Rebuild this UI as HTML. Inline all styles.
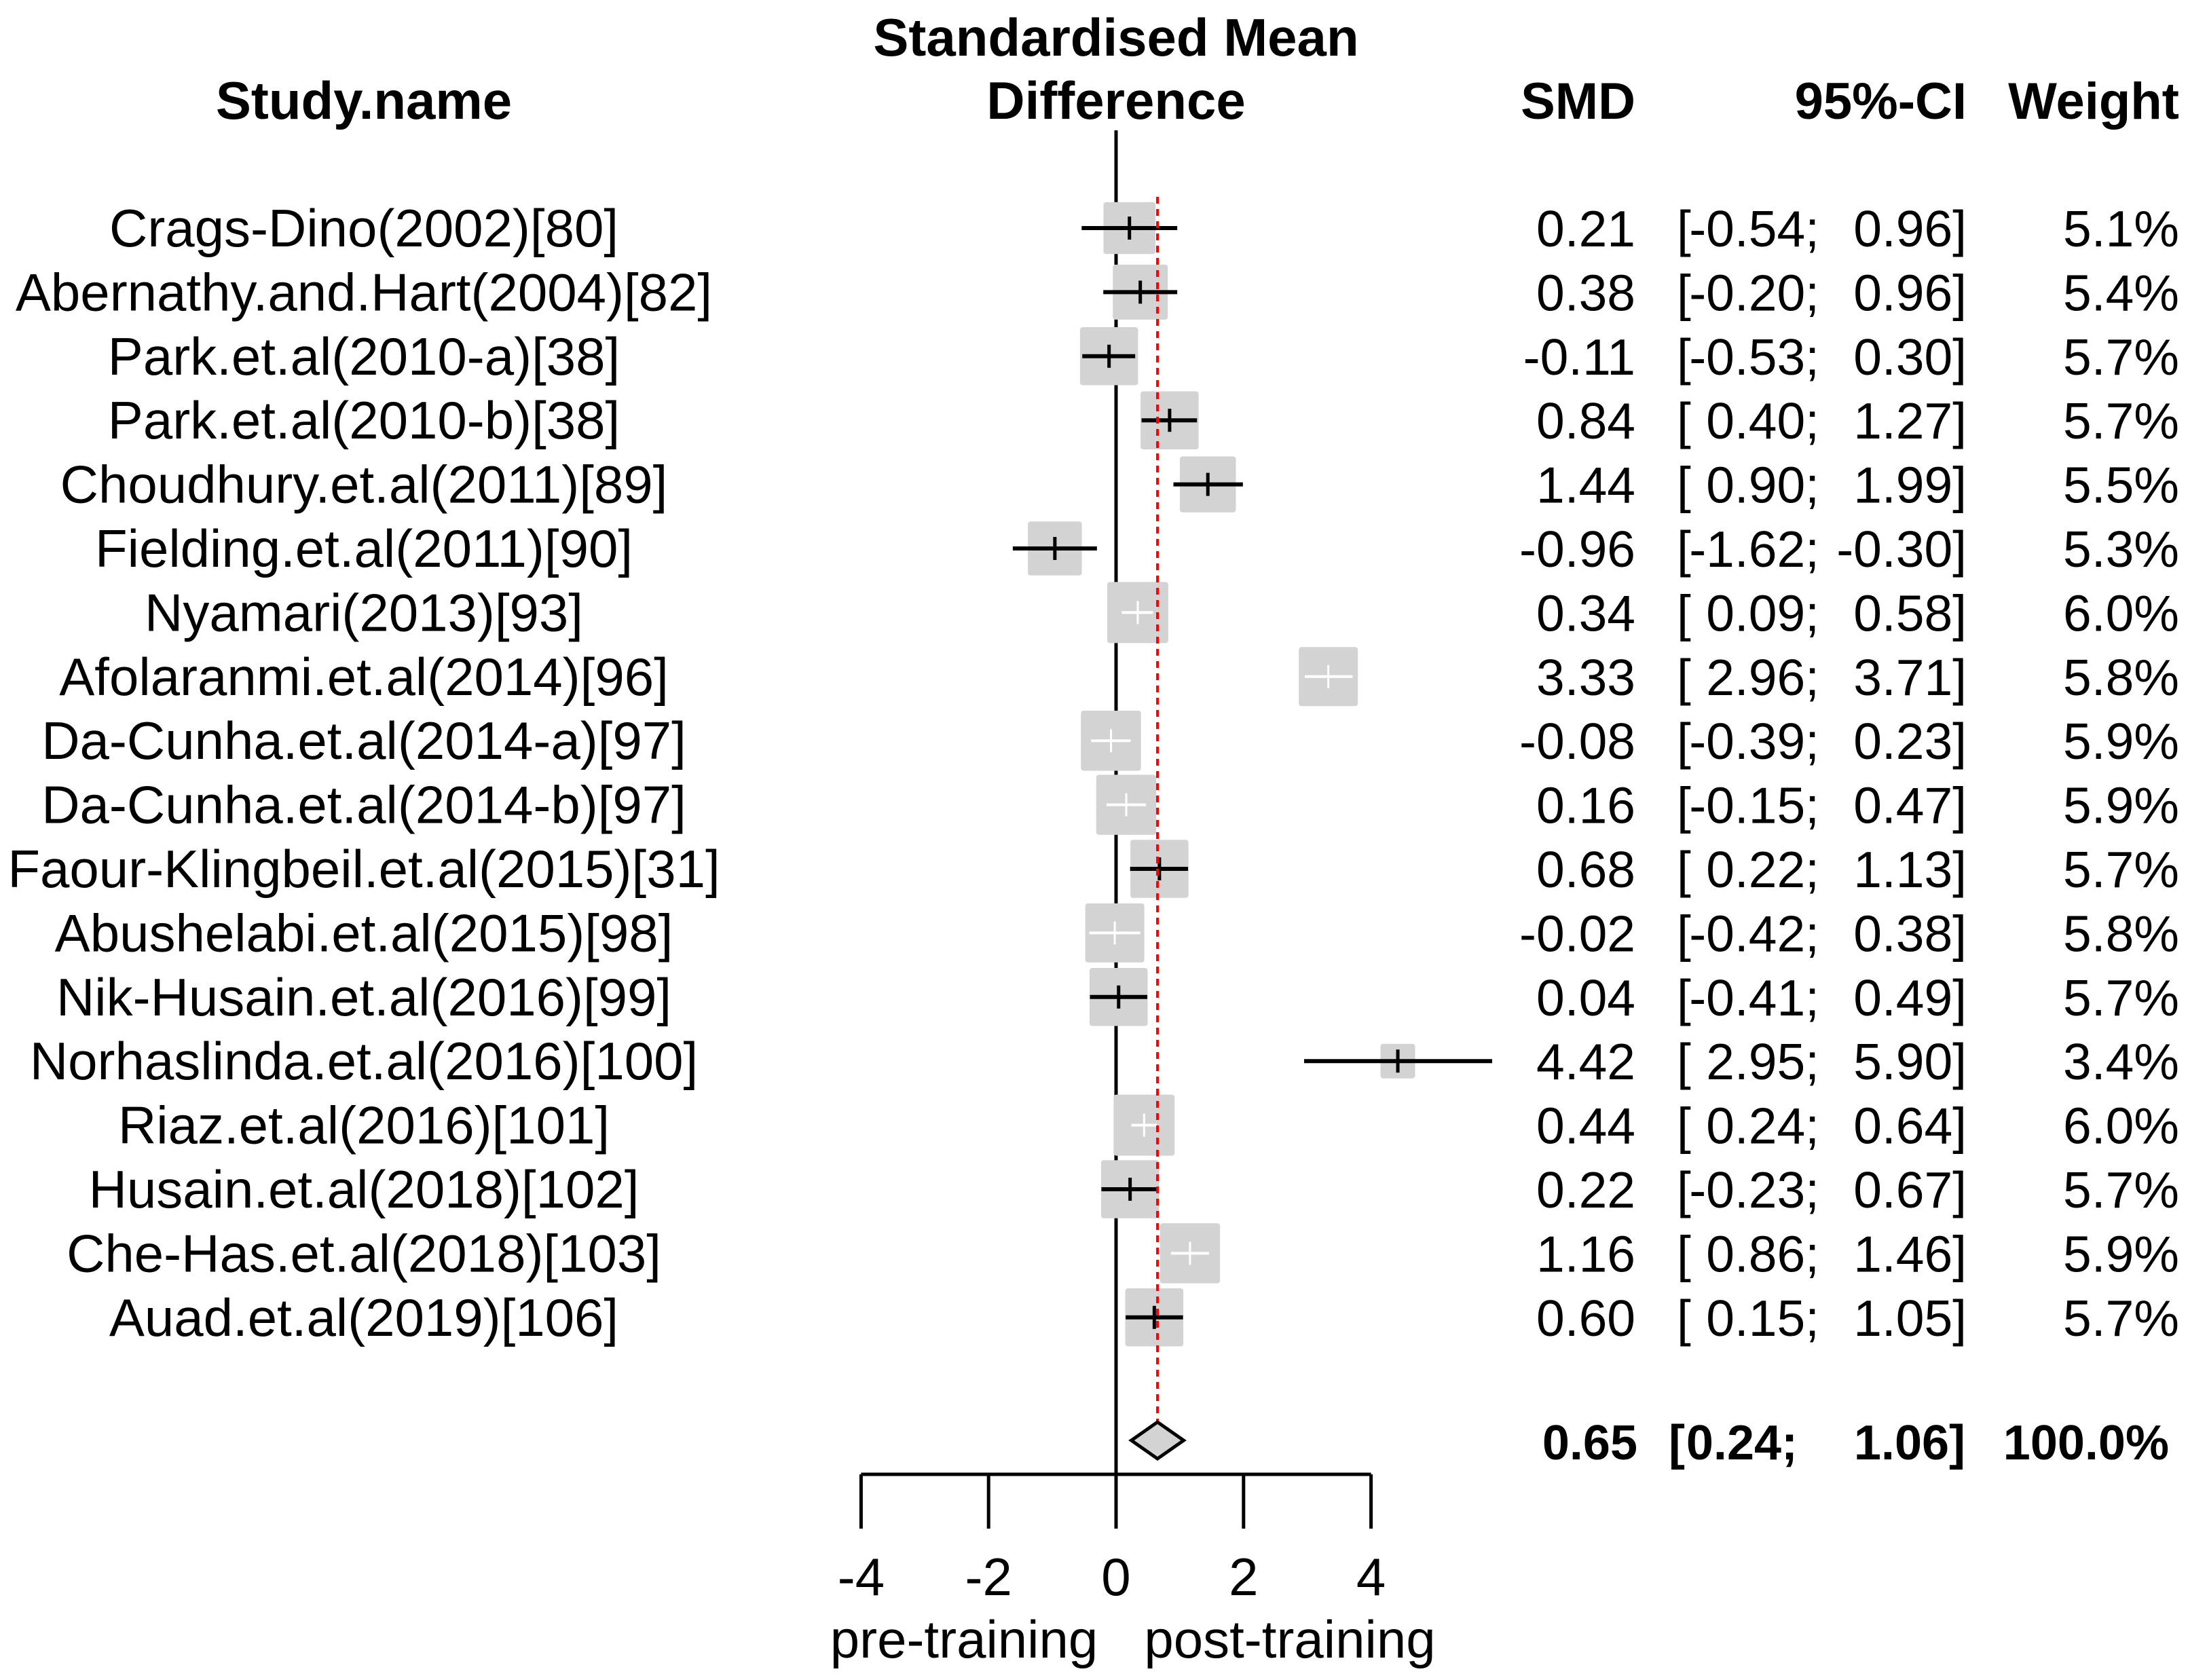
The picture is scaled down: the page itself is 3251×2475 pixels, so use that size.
<!DOCTYPE html>
<html><head><meta charset="utf-8"><style>
html,body{margin:0;padding:0;background:#fff}
svg{display:block}
text{font-family:"Liberation Sans",Arial,sans-serif;fill:#000}
</style></head><body>
<svg id="c" width="3251" height="2475" viewBox="0 0 3251 2475" xmlns="http://www.w3.org/2000/svg">
<g id="hdr">
<text x="536" y="175" font-size="78" font-weight="bold" text-anchor="middle">Study.name</text>
<text x="1644" y="82" font-size="78" font-weight="bold" text-anchor="middle">Standardised Mean</text>
<text x="1644" y="175" font-size="78" font-weight="bold" text-anchor="middle">Difference</text>
<text x="2409" y="175" font-size="76" font-weight="bold" text-anchor="end">SMD</text>
<text x="2897" y="175" font-size="76" font-weight="bold" text-anchor="end">95%-CI</text>
<text x="3210" y="175" font-size="76" font-weight="bold" text-anchor="end">Weight</text>
</g>
<g id="plot"></g>
</svg>
<script>
const studies=["Crags-Dino(2002)[80]","Abernathy.and.Hart(2004)[82]","Park.et.al(2010-a)[38]","Park.et.al(2010-b)[38]","Choudhury.et.al(2011)[89]","Fielding.et.al(2011)[90]","Nyamari(2013)[93]","Afolaranmi.et.al(2014)[96]","Da-Cunha.et.al(2014-a)[97]","Da-Cunha.et.al(2014-b)[97]","Faour-Klingbeil.et.al(2015)[31]","Abushelabi.et.al(2015)[98]","Nik-Husain.et.al(2016)[99]","Norhaslinda.et.al(2016)[100]","Riaz.et.al(2016)[101]","Husain.et.al(2018)[102]","Che-Has.et.al(2018)[103]","Auad.et.al(2019)[106]"];
const smd=[0.21,0.38,-0.11,0.84,1.44,-0.96,0.34,3.33,-0.08,0.16,0.68,-0.02,0.04,4.42,0.44,0.22,1.16,0.60];
const lower=[-0.54,-0.20,-0.53,0.40,0.90,-1.62,0.09,2.96,-0.39,-0.15,0.22,-0.42,-0.41,2.95,0.24,-0.23,0.86,0.15];
const upper=[0.96,0.96,0.30,1.27,1.99,-0.30,0.58,3.71,0.23,0.47,1.13,0.38,0.49,5.90,0.64,0.67,1.46,1.05];
const weights=[5.1,5.4,5.7,5.7,5.5,5.3,6.0,5.8,5.9,5.9,5.7,5.8,5.7,3.4,6.0,5.7,5.9,5.7];
const pooled=[0.65,0.24,1.06];
const ticks=[-4,-2,0,2,4];

const NS="http://www.w3.org/2000/svg";
const g=document.getElementById('plot');
const X0=1644,UNIT=93.9,Y0=336,DY=94.4;
const xs=v=>X0+v*UNIT;
const ys=i=>Y0+i*DY;
function mk(tag,attrs,parent){const e=document.createElementNS(NS,tag);for(const k in attrs)e.setAttribute(k,attrs[k]);(parent||g).appendChild(e);return e;}
function fmt(v){return (v<0?'-':'')+Math.abs(v).toFixed(2);}
const axisY=2172, summaryY=2122, FS=78, NF=75, BF=72;

function ciText(lo,hi,y,bold){
  const a={'font-size':bold?BF:NF}; if(bold)a['font-weight']='bold';
  const pos=bold?[2458,2648,2895]:[2470,2680,2897];
  const b1=mk('text',Object.assign({x:pos[0],y:y},a));b1.textContent='[';
  
  
  const t1=mk('text',Object.assign({x:pos[1],y:y,'text-anchor':'end'},a));t1.textContent=fmt(lo)+';';
  
  
  const t2=mk('text',Object.assign({x:pos[2],y:y,'text-anchor':'end'},a));t2.textContent=fmt(hi)+']';
  
  
}

let z=mk('line',{x1:xs(0),x2:xs(0),y1:192,y2:axisY,stroke:'#000','stroke-width':5});



studies.forEach((s,i)=>{
  const y=ys(i);
  const side=weights[i]*15;
  const r=mk('rect',{x:xs(smd[i])-side/2,y:y-side/2,width:side,height:side,fill:'#d3d3d3',rx:4});
  
  
  const inside=(xs(upper[i])-xs(lower[i]))<side*0.88;
  const col=inside?'#fff':'#000';
  const l=mk('line',{x1:xs(lower[i]),x2:xs(upper[i]),y1:y,y2:y,stroke:col,'stroke-width':inside?4:6});
  
  
  const p=mk('line',{x1:xs(smd[i]),x2:xs(smd[i]),y1:y-17,y2:y+17,stroke:col,'stroke-width':inside?3:5});
  
  
  const t=mk('text',{x:536,y:y+27,'font-size':FS,'text-anchor':'middle'});t.textContent=s;
  
  
  const t2=mk('text',{x:2409,y:y+27,'font-size':NF,'text-anchor':'end'});t2.textContent=smd[i].toFixed(2);
  
  
  ciText(lower[i],upper[i],y+27,false);
  const t4=mk('text',{x:3210,y:y+27,'font-size':NF,'text-anchor':'end'});t4.textContent=weights[i].toFixed(1)+'%';
  
  
});

const rl=mk('line',{x1:xs(pooled[0]),x2:xs(pooled[0]),y1:290,y2:2095,stroke:'#f00','stroke-width':4,'stroke-dasharray':'10 8'});


const d=mk('polygon',{points:`${xs(pooled[1])},${summaryY} ${xs(pooled[0])},${summaryY-27} ${xs(pooled[2])},${summaryY} ${xs(pooled[0])},${summaryY+27}`,fill:'#d3d3d3',stroke:'#000','stroke-width':5});


const sm=mk('text',{x:2412,y:summaryY+28,'font-size':BF,'font-weight':'bold','text-anchor':'end'});sm.textContent=pooled[0].toFixed(2);


ciText(pooled[1],pooled[2],summaryY+28,true);
const sw=mk('text',{x:3195,y:summaryY+28,'font-size':BF,'font-weight':'bold','text-anchor':'end'});sw.textContent='100.0%';



const ax=mk('line',{x1:xs(ticks[0]),x2:xs(ticks[ticks.length-1]),y1:axisY,y2:axisY,stroke:'#000','stroke-width':5});


ticks.forEach(v=>{
  const tk=mk('line',{x1:xs(v),x2:xs(v),y1:axisY,y2:2252,stroke:'#000','stroke-width':5});
  
  
  const tl=mk('text',{x:xs(v),y:2350,'font-size':FS,'text-anchor':'middle'});tl.textContent=String(v);
  
  
});
const pre=mk('text',{x:1420,y:2442,'font-size':FS,'text-anchor':'middle'});pre.textContent='pre-training';


const post=mk('text',{x:1900,y:2442,'font-size':FS,'text-anchor':'middle'});post.textContent='post-training';


</script>
</body></html>
